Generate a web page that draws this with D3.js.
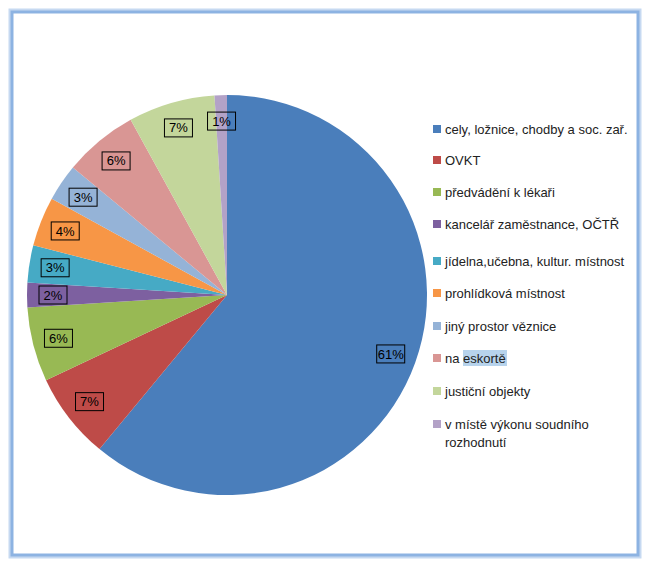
<!DOCTYPE html>
<html><head><meta charset="utf-8">
<script src="https://cdn.jsdelivr.net/npm/d3@7"></script>
<style>body{margin:0;background:#fff;}svg{font-family:"Liberation Sans",Arial,sans-serif;}</style>
</head><body><svg id="chart" width="651" height="570"></svg>
<script>
const categories = ["cely, ložnice, chodby a soc. zař.", "OVKT", "předvádění k lékaři",
  "kancelář zaměstnance, OČTŘ", "jídelna,učebna, kultur. místnost", "prohlídková místnost",
  "jiný prostor věznice", "na eskortě", "justiční objekty", "v místě výkonu soudního rozhodnutí"];
const values = [61, 7, 6, 2, 3, 4, 3, 6, 7, 1];
const colors = ["#4a7ebb", "#be4b48", "#98b954", "#7d60a0", "#46aac5", "#f79646",
  "#95b3d7", "#d99694", "#c3d69b", "#b3a2c7"];

const svg = d3.select("#chart");

// frame
svg.append("rect").attr("x", 12).attr("y", 12).attr("width", 626).attr("height", 543)
  .attr("fill", "none").attr("stroke", "#c6d9f1").attr("stroke-width", 7);
svg.append("rect").attr("x", 12).attr("y", 12).attr("width", 626).attr("height", 543)
  .attr("fill", "#fff").attr("stroke", "#8db3e2").attr("stroke-width", 3);

const cx = 227, cy = 295, r = 200;
const pie = d3.pie().sort(null).value(d => d);
const arcs = pie(values);
const arc = d3.arc().innerRadius(0).outerRadius(r);
const labelArc = d3.arc().innerRadius(r * 0.87).outerRadius(r * 0.87);

const g = svg.append("g").attr("transform", `translate(${cx},${cy})`);
g.selectAll("path").data(arcs).enter().append("path")
  .attr("d", arc).attr("fill", (d, i) => colors[i]);

const lab = g.selectAll("g.lab").data(arcs).enter().append("g")
  .attr("transform", d => `translate(${labelArc.centroid(d)})`);
lab.append("rect").attr("x", -14).attr("y", -9).attr("width", 28).attr("height", 18)
  .attr("fill", "none").attr("stroke", "#000").attr("stroke-width", 1);
lab.append("text").attr("text-anchor", "middle").attr("dy", "0.35em")
  .attr("font-size", 13).attr("fill", "#000").text(d => d.data + "%");

// legend
const ly = [129, 160, 192, 224, 261, 293, 326, 358, 391, 424];
const leg = svg.append("g");
categories.forEach((c, i) => {
  const y = ly[i];
  leg.append("rect").attr("x", 433).attr("y", y - 4).attr("width", 8).attr("height", 8)
    .attr("fill", colors[i]);
  const t = leg.append("text").attr("x", 445).attr("y", y + 4.5)
    .attr("font-size", 13).attr("fill", "#222");
  if (i === 7) {
    leg.insert("rect", "text").attr("x", 463).attr("y", y - 8).attr("width", 44).attr("height", 16)
      .attr("fill", "#b7d3ec");
    t.text("na eskortě");
  } else if (i === 9) {
    t.text("v místě výkonu soudního");
    leg.append("text").attr("x", 445).attr("y", y + 22.5)
      .attr("font-size", 13).attr("fill", "#222").text("rozhodnutí");
  } else {
    t.text(c);
  }
});
</script></body></html>
